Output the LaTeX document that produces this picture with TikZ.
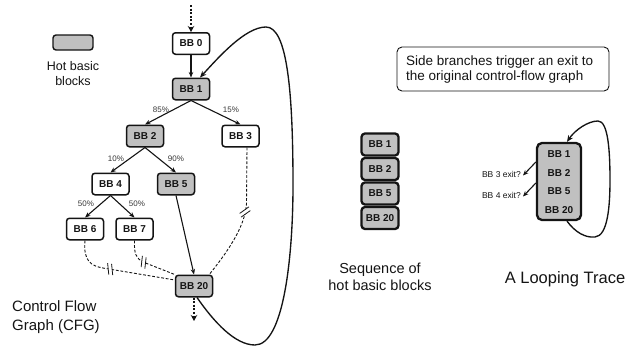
\documentclass[tikz,border=0pt]{standalone}
\usepackage{fontspec}
\setmainfont{Liberation Sans}
\usetikzlibrary{arrows.meta}
\definecolor{hot}{RGB}{192,192,192}
\definecolor{ink}{RGB}{20,20,20}
\tikzset{
  bb/.style={draw=ink, rounded corners=3pt, line width=1.5pt, minimum width=37pt, minimum height=21.5pt, inner sep=0pt, fill=white, text=ink, font=\fontsize{10}{12}\selectfont\bfseries},
  hotbb/.style={bb, fill=hot},
  seqbb/.style={draw=ink, rounded corners=3.5pt, line width=2.3pt, minimum width=37pt, minimum height=22pt, inner sep=0pt, fill=hot, text=ink, font=\fontsize{10}{12}\selectfont\bfseries},
  trl/.style={text=ink, inner sep=0pt, font=\fontsize{10}{12}\selectfont\bfseries},
  pct/.style={text=ink!85, inner sep=0pt, font=\fontsize{8}{9}\selectfont},
  edge/.style={draw=ink, line width=1.1pt, -{Stealth[length=5.5pt,width=4.5pt]}},
  dsh/.style={draw=ink, line width=0.9pt, dash pattern=on 2.8pt off 1.8pt},
  dotarr/.style={draw=ink, line width=2pt, dash pattern=on 2pt off 1.6pt, -{Stealth[length=6pt,width=6.5pt]}},
  loopline/.style={draw=ink, line width=1.35pt},
  brk/.pic={\fill[white] (-2,-6) rectangle (2,6);
            \draw[ink, solid, line width=0.8pt] (-3.5,-5.5) -- (-0.5,5.5) (0.5,-5.5) -- (3.5,5.5);},
  bigtxt/.style={text=ink, inner sep=0pt, align=center}
}
\begin{document}
\begin{tikzpicture}[x=1pt,y=-1pt]
\useasboundingbox (0,0) rectangle (637,348);

% legend
\node[draw=ink, fill=hot, rounded corners=3pt, line width=1.4pt, minimum width=40pt, minimum height=15pt, inner sep=0pt] (legend) at (73,42.5) {};
\node[bigtxt, font=\fontsize{12.5}{15}\selectfont] (legtxt) at (73,73.5) {Hot basic\\blocks};

% CFG nodes
\node[bb] (bb0) at (191,43.5) {BB 0};
\node[hotbb] (bb1) at (191,89) {BB 1};
\node[hotbb] (bb2) at (145,136) {BB 2};
\node[bb] (bb3) at (240.5,136) {BB 3};
\node[bb] (bb4) at (110.5,184) {BB 4};
\node[hotbb] (bb5) at (176,184) {BB 5};
\node[bb] (bb6) at (85,229) {BB 6};
\node[bb] (bb7) at (134.5,229) {BB 7};
\node[hotbb] (bb20) at (194,286) {BB 20};

% entry / exit
\coordinate (entry) at (191,5);
\coordinate (exit) at (194,321);
\draw[dotarr] (entry) -- (bb0.north);
\draw[dotarr] (bb20.south) -- (exit);

% edges
\draw[edge] (bb0) -- (bb1);
\draw[edge] (bb1.south) -- (bb2.north);
\draw[edge] (bb1.south) -- (bb3.north);
\draw[edge] (bb2.south) -- (bb4.north);
\draw[edge] (bb2.south) -- (bb5.north);
\draw[edge] (bb4.south) -- (bb6.north);
\draw[edge] (bb4.south) -- (bb7.north);
\draw[edge] (bb5.south) -- (bb20.north);

% percentages
\node[pct] (p85) at (161,109.5) {85\%};
\node[pct] (p15) at (231,109.5) {15\%};
\node[pct] (p10) at (116,159) {10\%};
\node[pct] (p90) at (176,159) {90\%};
\node[pct] (p50a) at (86,204) {50\%};
\node[pct] (p50b) at (137,204) {50\%};

% dashed side exits
\draw[dsh] (bb6.south) .. controls (83,262) and (92,266) .. (103,268)
  -- pic[pos=0.1, sloped]{brk} ([yshift=6pt]bb20.west);
\draw[dsh] (bb7.south) .. controls (134,254) and (136,258) .. (143,262)
  -- pic[pos=0.02, sloped]{brk} (bb20.north west);
\draw[dsh] ([xshift=6.5pt]bb3.south) -- (246.5,204)
  .. controls (245,228) and (225,255) .. ([xshift=-4pt]bb20.north east);
\pic[rotate=-70] at (245,212) {brk};

% loop in CFG
\draw[loopline, -{Stealth[length=6.5pt,width=5.5pt]}] ([xshift=3pt]bb20.south)
  .. controls (214,322) and (235,345) .. (255,345)
  .. controls (284,345) and (293,255) .. (293,185)
  .. controls (293,90) and (287,27) .. (266,27)
  .. controls (245,27) and (218,58) .. ([xshift=9pt]bb1.north);

\node[text=ink, inner sep=0pt, align=left, anchor=west, font=\fontsize{15}{19.5}\selectfont] (cfglbl) at (12,317) {Control Flow\\Graph (CFG)};

% side-branch note
\node[draw=ink, rounded corners=5pt, line width=0.9pt, minimum width=212pt, minimum height=44pt, inner sep=0pt] (note) at (503,69) {};
\node[text=ink, inner sep=0pt, align=left, anchor=west, font=\fontsize{13.5}{15}\selectfont] (notetxt) at (406,69.5) {Side branches trigger an exit to\\the original control-flow graph};

% sequence of hot blocks
\node[seqbb] (s1) at (380,144.5) {BB 1};
\node[seqbb] (s2) at (380,169) {BB 2};
\node[seqbb] (s5) at (380,193.5) {BB 5};
\node[seqbb] (s20) at (380,218) {BB 20};
\node[bigtxt, font=\fontsize{14.5}{17}\selectfont] (seqlbl) at (380,277) {Sequence of\\hot basic blocks};

% looping trace
\node[draw=ink, fill=hot, rounded corners=5pt, line width=2.3pt, minimum width=44pt, minimum height=77pt, inner sep=0pt] (trace) at (559,181.5) {};
\node[trl] (t1) at (559,154) {BB 1};
\node[trl] (t2) at (559,173) {BB 2};
\node[trl] (t5) at (559,191) {BB 5};
\node[trl] (t20) at (559,210) {BB 20};
\node[text=ink, inner sep=0pt, anchor=east, font=\fontsize{8.5}{10}\selectfont] (ex3) at (521,174.5) {BB 3 exit?};
\node[text=ink, inner sep=0pt, anchor=east, font=\fontsize{8.5}{10}\selectfont] (ex4) at (521,195.5) {BB 4 exit?};
\draw[edge] ([yshift=19.5pt]trace.west) -- ([xshift=2pt,yshift=-1pt]ex3.east);
\draw[edge] ([yshift=-1.5pt]trace.west) -- ([xshift=2pt,yshift=-1pt]ex4.east);
\draw[loopline, -{Stealth[length=6.5pt,width=5.5pt]}] ([xshift=8pt]trace.south)
  .. controls (575,232) and (585,238) .. (595,237)
  .. controls (608,236) and (610,205) .. (610,180)
  .. controls (610,150) and (608,121) .. (598,121)
  .. controls (588,121) and (575,130) .. ([xshift=8pt]trace.north);
\node[text=ink, inner sep=0pt, font=\fontsize{16.5}{19}\selectfont] (looplbl) at (565,279) {A Looping Trace};
\end{tikzpicture}
\end{document}
